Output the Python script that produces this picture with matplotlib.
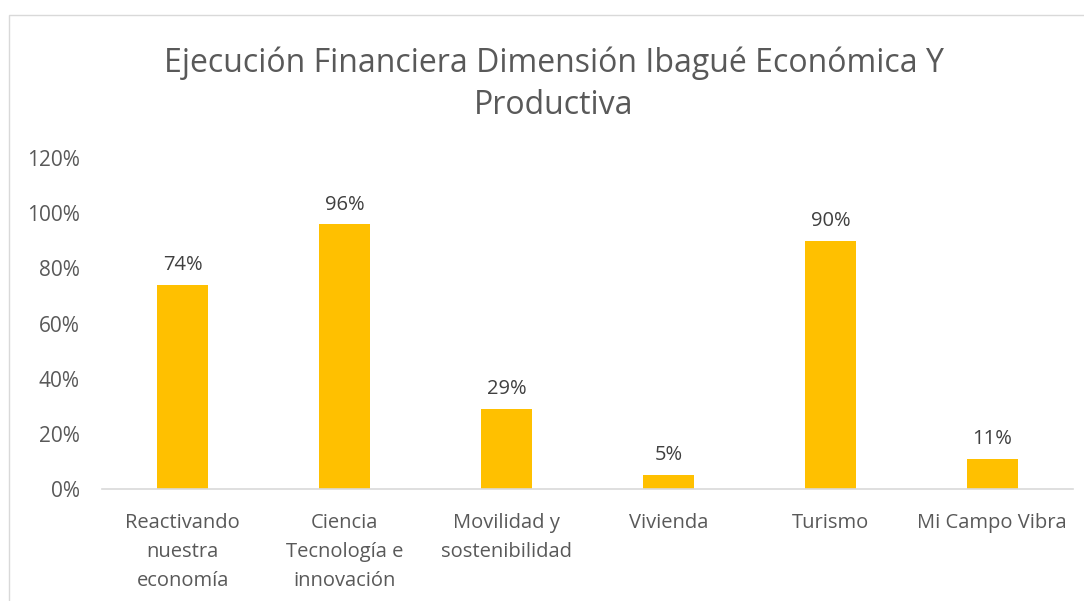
import matplotlib.pyplot as plt
from matplotlib.patches import Rectangle
from matplotlib.ticker import FuncFormatter

categorias = ["Reactivando\nnuestra\neconomía", "Ciencia\nTecnología e\ninnovación",
              "Movilidad y\nsostenibilidad", "Vivienda", "Turismo", "Mi Campo Vibra"]
ejecucion = [74, 96, 29, 5, 90, 11]
etiquetas = ["74%", "96%", "29%", "5%", "90%", "11%"]

plt.rcParams["font.family"] = ["Open Sans", "DejaVu Sans"]
gris = "#595959"

fig = plt.figure(figsize=(10.84, 6.01), dpi=100)
ax = fig.add_axes([0.094, 0.1864, 0.896, 0.5506])

x = range(len(categorias))
bars = ax.bar(x, ejecucion, width=0.315, color="#FFC000")
for b, t in zip(bars, etiquetas):
    ax.annotate(t, (b.get_x() + b.get_width() / 2, b.get_height()),
                xytext=(0, 7), textcoords="offset points",
                ha="center", va="bottom", fontsize=14.5, color="#404040")

ax.set_xlim(-0.5, 5.5)
ax.set_ylim(0, 120)
ax.set_yticks(range(0, 121, 20))
ax.yaxis.set_major_formatter(FuncFormatter(lambda v, p: f"{int(v)}%"))
ax.set_xticks(list(x))
ax.set_xticklabels(categorias, fontsize=14.5, color=gris, linespacing=1.6, va="top")
ax.tick_params(axis="y", labelsize=15, labelcolor=gris, length=0, pad=16)
ax.tick_params(axis="x", length=0, pad=17)
for s in ["top", "right", "left"]:
    ax.spines[s].set_visible(False)
ax.spines["bottom"].set_color("#d9d9d9")
ax.spines["bottom"].set_linewidth(1.2)

fig.text(0.511, 0.86, "Ejecución Financiera Dimensión Ibagué Económica Y\nProductiva",
         ha="center", va="center", fontsize=23, color=gris, linespacing=1.35)

fig.patches.append(Rectangle((0.008, -0.01), 1.0, 0.985, transform=fig.transFigure,
                             fill=False, edgecolor="#d9d9d9", linewidth=1))

fig.savefig("out.png", dpi=100)
